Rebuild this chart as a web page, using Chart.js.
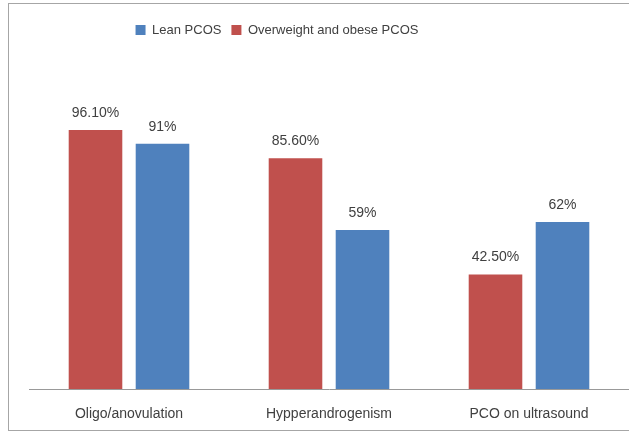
<!DOCTYPE html>
<html>
<head>
<meta charset="utf-8">
<script src="https://cdn.jsdelivr.net/npm/chart.js@4"></script>
<style>
  html, body { margin: 0; padding: 0; background: #fff; }
  #wrap { width: 629px; height: 433px; position: relative; }
</style>
</head>
<body>
<div id="wrap"><canvas id="c" width="629" height="433"></canvas></div>
<script>
const categories = ["Oligo/anovulation", "Hypperandrogenism", "PCO on ultrasound"];
const overweightValues = [96.1, 85.6, 42.5];
const leanValues = [91, 59, 62];
const overweightLabels = ["96.10%", "85.60%", "42.50%"];
const leanLabels = ["91%", "59%", "62%"];

const framePlugin = {
  id: 'frame',
  beforeDraw(chart) {
    const ctx = chart.ctx;
    ctx.save();
    ctx.fillStyle = '#ffffff';
    ctx.fillRect(0, 0, chart.width, chart.height);
    ctx.strokeStyle = '#a6a6a6';
    ctx.lineWidth = 1;
    ctx.strokeRect(8.5, 3.5, 700, 427);
    ctx.restore();
  }
};

const legendShift = {
  id: 'legendShift',
  afterUpdate(chart) {
    if (chart.legend) {
      chart.legend.left -= 52;
      chart.legend.right -= 52;
    }
  }
};

const valueLabels = {
  id: 'valueLabels',
  afterDatasetsDraw(chart) {
    const ctx = chart.ctx;
    ctx.save();
    ctx.font = '14px "Liberation Sans", Arial, sans-serif';
    ctx.fillStyle = '#404040';
    ctx.textAlign = 'center';
    ctx.textBaseline = 'middle';
    chart.data.datasets.forEach((ds, di) => {
      const meta = chart.getDatasetMeta(di);
      meta.data.forEach((bar, i) => {
        ctx.fillText(ds.valueText[i], bar.x, bar.y - 17);
      });
    });
    ctx.restore();
  }
};

new Chart(document.getElementById('c'), {
  type: 'bar',
  data: {
    labels: categories,
    datasets: [
      {
        label: 'Overweight and obese PCOS',
        data: overweightValues,
        valueText: overweightLabels,
        backgroundColor: '#c0504d',
        barPercentage: 0.8,
        categoryPercentage: 0.67
      },
      {
        label: 'Lean PCOS',
        data: leanValues,
        valueText: leanLabels,
        backgroundColor: '#4f81bd',
        barPercentage: 0.8,
        categoryPercentage: 0.67
      }
    ]
  },
  options: {
    responsive: false,
    animation: false,
    devicePixelRatio: 1,
    layout: { padding: { left: 29, right: 0, top: 13.5, bottom: 0 } },
    plugins: {
      tooltip: { enabled: false },
      legend: {
        position: 'top',
        reverse: true,
        labels: {
          boxWidth: 10,
          boxHeight: 10,
          padding: 10,
          color: '#404040',
          font: { family: '"Liberation Sans", Arial, sans-serif', size: 13 }
        }
      }
    },
    scales: {
      x: {
        grid: { display: false, drawTicks: false },
        border: { display: true, color: '#999999', width: 1 },
        ticks: {
          padding: 17,
          color: '#404040',
          font: { family: '"Liberation Sans", Arial, sans-serif', size: 14 }
        },
        afterFit(scale) { scale.height = 44; }
      },
      y: {
        display: false,
        min: 0,
        max: 127.1
      }
    }
  },
  plugins: [framePlugin, legendShift, valueLabels]
});
</script>
</body>
</html>
